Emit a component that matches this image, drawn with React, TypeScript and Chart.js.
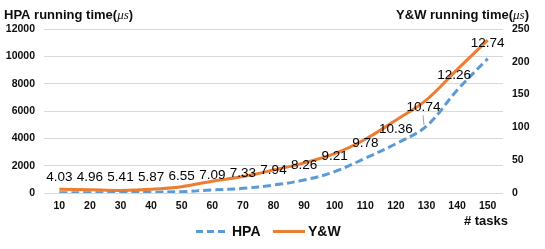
import React, { useEffect, useRef } from "react";
import { Chart, registerables } from "chart.js";

Chart.register(...registerables);

const categories = ["10", "20", "30", "40", "50", "60", "70", "80", "90", "100", "110", "120", "130", "140", "150"];
const hpaValues = [20, 25, 30, 50, 100, 220, 340, 580, 950, 1560, 2550, 3600, 4890, 7520, 9830];
const ywValues = [5.6, 5, 4, 5.6, 9.6, 18, 25, 35, 46, 60, 82, 111, 142, 188, 233];
const ratioLabels = ["4.03", "4.96", "5.41", "5.87", "6.55", "7.09", "7.33", "7.94", "8.26", "9.21", "9.78", "10.36", "10.74", "12.26", "12.74"];
const leftAxis = { min: 0, max: 12000, step: 2000 };
const rightAxis = { min: 0, max: 250, step: 50 };

const SANS = '"Liberation Sans", Arial, sans-serif';
const BLUE = "#5B9BD5";
const ORANGE = "#ED7D31";
const TEXT = "#0d0d0d";

function drawMixed(ctx: CanvasRenderingContext2D, label: string, x: number, y: number, alignRight: boolean) {
  const parts = [
    { t: label + " running time(", f: `bold 13px ${SANS}` },
    { t: "\u03bcs", f: `italic 13px "Liberation Serif", "DejaVu Serif", serif` },
    { t: ")", f: `bold 13px ${SANS}` },
  ];
  let total = 0;
  const widths = parts.map((p) => {
    ctx.font = p.f;
    const w = ctx.measureText(p.t).width;
    total += w;
    return w;
  });
  let cx = alignRight ? x - total : x;
  ctx.textAlign = "left";
  ctx.textBaseline = "alphabetic";
  parts.forEach((p, i) => {
    ctx.font = p.f;
    ctx.fillText(p.t, cx, y);
    cx += widths[i];
  });
}

const overlayPlugin = {
  id: "overlay",
  afterDatasetsDraw(chart: any) {
    const ctx: CanvasRenderingContext2D = chart.ctx;
    const meta = chart.getDatasetMeta(0);
    ctx.save();
    ctx.font = `13.5px ${SANS}`;
    ctx.fillStyle = "#000";
    ctx.textAlign = "center";
    ctx.textBaseline = "middle";
    meta.data.forEach((pt: any, i: number) => {
      const lead = i === 12;
      const off = lead ? 19 : 15;
      const dx = lead ? -3 : i === 13 ? -3 : 0;
      ctx.fillText(ratioLabels[i], pt.x + dx, pt.y - off);
      if (lead) {
        ctx.strokeStyle = "#8c8c8c";
        ctx.lineWidth = 0.8;
        ctx.beginPath();
        ctx.moveTo(pt.x - 3.5, pt.y - off + 8);
        ctx.lineTo(pt.x - 2.5, pt.y - 1);
        ctx.stroke();
      }
    });
    ctx.restore();
  },
  afterDraw(chart: any) {
    const ctx: CanvasRenderingContext2D = chart.ctx;
    ctx.save();
    ctx.fillStyle = TEXT;
    drawMixed(ctx, "HPA", 4, 18.5, false);
    drawMixed(ctx, "Y&W", 529, 18.5, true);

    ctx.font = `bold 13px ${SANS}`;
    ctx.textAlign = "right";
    ctx.textBaseline = "alphabetic";
    ctx.fillText("# tasks", 508, 224.5);

    // legend
    const ly = 231.5;
    ctx.lineWidth = 3;
    ctx.strokeStyle = BLUE;
    ctx.setLineDash([7, 4]);
    ctx.beginPath();
    ctx.moveTo(196, ly);
    ctx.lineTo(226, ly);
    ctx.stroke();
    ctx.setLineDash([]);
    ctx.strokeStyle = ORANGE;
    ctx.beginPath();
    ctx.moveTo(273, ly);
    ctx.lineTo(305, ly);
    ctx.stroke();
    ctx.font = `bold 14px ${SANS}`;
    ctx.textAlign = "left";
    ctx.textBaseline = "middle";
    ctx.fillText("HPA", 232, ly + 0.5);
    ctx.fillText("Y&W", 308, ly + 0.5);
    ctx.restore();
  },
};

export default function App() {
  const ref = useRef<HTMLCanvasElement | null>(null);
  useEffect(() => {
    if (!ref.current) return;
    const tickFont = { family: SANS, size: 10.5, weight: "bold" as const };
    const chart = new Chart(ref.current, {
      type: "line",
      data: {
        labels: categories,
        datasets: [
          {
            label: "HPA",
            data: hpaValues,
            yAxisID: "y",
            borderColor: BLUE,
            backgroundColor: BLUE,
            borderWidth: 3,
            borderDash: [8, 4],
            pointRadius: 0,
            tension: 0.35,
            fill: false,
          },
          {
            label: "Y&W",
            data: ywValues,
            yAxisID: "y1",
            borderColor: ORANGE,
            backgroundColor: ORANGE,
            borderWidth: 3,
            pointRadius: 0,
            tension: 0.35,
            fill: false,
          },
        ],
      },
      options: {
        responsive: false,
        animation: false,
        layout: { padding: { top: 29, left: 0, right: 0, bottom: 0 } },
        plugins: { legend: { display: false }, tooltip: { enabled: false } },
        scales: {
          x: {
            offset: true,
            grid: { display: false, drawTicks: false },
            border: { display: false },
            ticks: { font: tickFont, color: TEXT, padding: 7, maxRotation: 0, autoSkip: false },
            afterFit: (s: any) => {
              s.height = 56;
            },
          },
          y: {
            position: "left",
            min: leftAxis.min,
            max: leftAxis.max,
            ticks: { stepSize: leftAxis.step, font: tickFont, color: TEXT, padding: 9, callback: (v: any) => String(v) },
            grid: { color: "#d9d9d9", lineWidth: 1, drawTicks: false },
            border: { display: false },
            afterFit: (s: any) => {
              s.width = 44;
            },
          },
          y1: {
            position: "right",
            min: rightAxis.min,
            max: rightAxis.max,
            ticks: { stepSize: rightAxis.step, font: tickFont, color: TEXT, padding: 9, callback: (v: any) => String(v) },
            grid: { drawOnChartArea: false, drawTicks: false },
            border: { display: false },
            afterFit: (s: any) => {
              s.width = 42;
            },
          },
        },
      },
      plugins: [overlayPlugin],
    });
    return () => chart.destroy();
  }, []);
  return (
    <div style={{ position: "fixed", left: 0, top: 0, width: 545, height: 249, background: "#fff" }}>
      <canvas ref={ref} width={545} height={249} style={{ width: 545, height: 249 }} />
    </div>
  );
}
